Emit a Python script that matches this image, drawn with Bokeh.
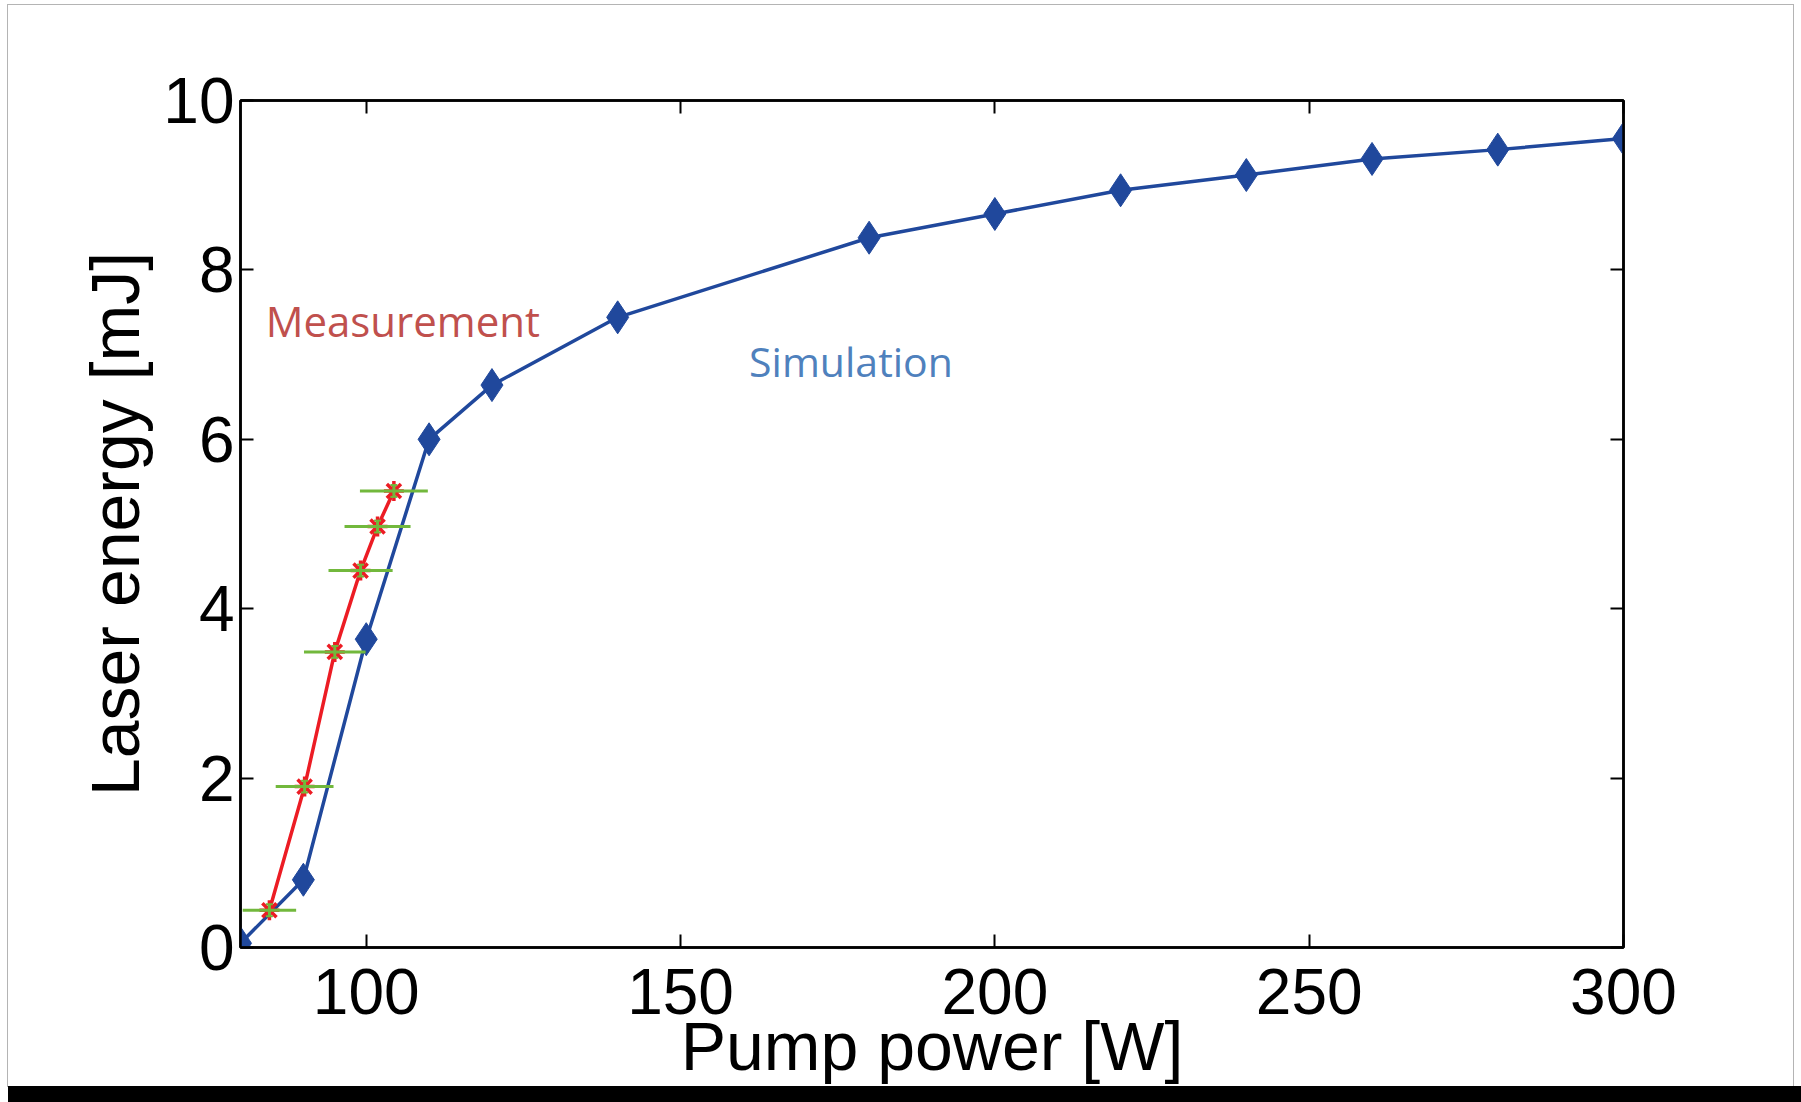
from bokeh.plotting import figure
from bokeh.layouts import column
from bokeh.models import Range1d, FixedTicker, LinearAxis, Label, Div
from bokeh.embed import file_html
from bokeh.resources import INLINE

# Simulated laser output energy vs. pump power
sim_power = [80, 90, 100, 110, 120, 140, 180, 200, 220, 240, 260, 280, 300]
sim_energy = [0.05, 0.80, 3.64, 6.00, 6.64, 7.44, 8.38, 8.66, 8.94, 9.12, 9.31, 9.42, 9.55]

# Measured laser output energy with uncertainties
meas_power = [84.6, 90.2, 95.0, 99.1, 101.8, 104.4]
meas_energy = [0.44, 1.90, 3.49, 4.45, 4.97, 5.39]
meas_power_err = [4.25, 4.6, 4.9, 5.1, 5.25, 5.4]
meas_energy_err = [0.07, 0.07, 0.07, 0.07, 0.07, 0.07]

x_ticks = [100, 150, 200, 250, 300]
y_ticks = [0, 2, 4, 6, 8, 10]

BLUE = "#20489c"
RED = "#ec1c24"
GREEN = "#72b83c"
AXIS_FONT = "Liberation Sans"

p = figure(width=1785, height=1081, output_backend="svg", toolbar_location=None,
           x_range=Range1d(80, 300), y_range=Range1d(0, 10),
           min_border_left=232, min_border_right=170,
           min_border_top=95, min_border_bottom=138,
           margin=(5, 8, 0, 8))
p.styles = {"outline": "1px solid #b4b4b4"}
p.background_fill_color = "white"
p.border_fill_color = "white"
p.outline_line_color = "black"
p.outline_line_width = 2.5
p.xgrid.visible = False
p.ygrid.visible = False

def style_axis(ax, ticks, show_labels):
    ax.ticker = FixedTicker(ticks=ticks)
    ax.axis_line_color = "black"
    ax.axis_line_width = 2.5
    ax.major_tick_in = 13
    ax.major_tick_out = 0
    ax.major_tick_line_width = 2
    ax.major_tick_line_color = "black"
    ax.minor_tick_line_color = None
    ax.major_label_text_font = AXIS_FONT
    if show_labels:
        ax.major_label_text_font_size = "64px"
        ax.major_label_text_color = "black"
    else:
        ax.major_label_text_font_size = "0px"
        ax.major_label_text_color = None

style_axis(p.xaxis[0], x_ticks, True)
style_axis(p.yaxis[0], y_ticks, True)
p.xaxis[0].major_label_standoff = 21
p.yaxis[0].major_label_standoff = 6

p.xaxis[0].axis_label = "Pump power [W]"
p.yaxis[0].axis_label = "Laser energy [mJ]"
for ax in (p.xaxis[0], p.yaxis[0]):
    ax.axis_label_text_font = AXIS_FONT
    ax.axis_label_text_font_size = "68px"
    ax.axis_label_text_font_style = "normal"
    ax.axis_label_text_color = "black"
p.xaxis[0].axis_label_standoff = -9
p.yaxis[0].axis_label_standoff = 7

top_ax = LinearAxis()
right_ax = LinearAxis()
style_axis(top_ax, x_ticks, False)
style_axis(right_ax, y_ticks, False)
p.add_layout(top_ax, "above")
p.add_layout(right_ax, "right")

# Simulation curve
p.line(sim_power, sim_energy, line_color=BLUE, line_width=3.5)
p.scatter(sim_power, sim_energy, marker="diamond", size=33,
          fill_color=BLUE, line_color=BLUE)

# Measurement curve with error bars
p.line(meas_power, meas_energy, line_color=RED, line_width=3.5)
p.scatter(meas_power, meas_energy, marker="asterisk", size=20,
          line_color=RED, line_width=3.5)
x_lo = [x - e for x, e in zip(meas_power, meas_power_err)]
x_hi = [x + e for x, e in zip(meas_power, meas_power_err)]
y_lo = [y - e for y, e in zip(meas_energy, meas_energy_err)]
y_hi = [y + e for y, e in zip(meas_energy, meas_energy_err)]
p.segment(x0=x_lo, y0=meas_energy, x1=x_hi, y1=meas_energy,
          line_color=GREEN, line_width=3)
p.segment(x0=meas_power, y0=y_lo, x1=meas_power, y1=y_hi,
          line_color=GREEN, line_width=3)
p.scatter(meas_power, y_lo, marker="dash", size=7, line_color=GREEN, line_width=2)
p.scatter(meas_power, y_hi, marker="dash", size=7, line_color=GREEN, line_width=2)

# Series annotations
p.add_layout(Label(x=84.0, y=7.40, text="Measurement", text_font="Open Sans",
                   text_font_size="42px", text_color="#c0504d",
                   text_baseline="alphabetic"))
p.add_layout(Label(x=160.9, y=6.93, text="Simulation", text_font="Open Sans",
                   text_font_size="41px", text_color="#4f81bd",
                   text_baseline="alphabetic"))

# Dark strip along the bottom of the page
bar = Div(text="", width=1793, height=16, margin=(0, 0, 0, 8),
          styles={"background-color": "black"})

layout = column(p, bar, spacing=0)
open("out.html", "w").write(file_html(layout, INLINE))
